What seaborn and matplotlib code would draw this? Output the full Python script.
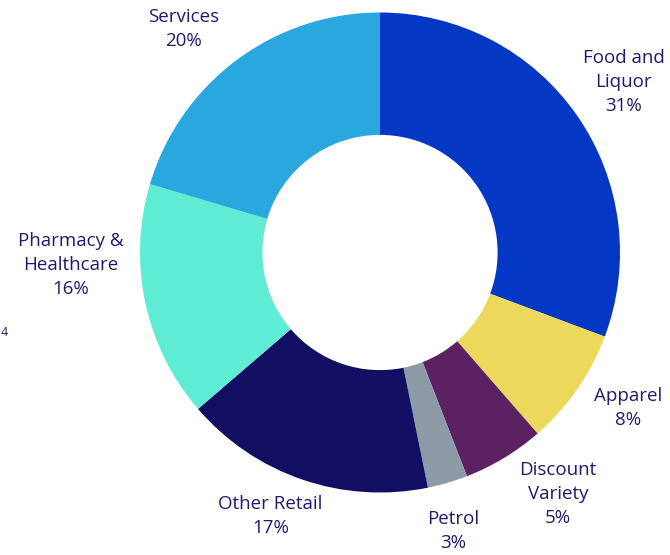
import numpy as np
import matplotlib
matplotlib.use("Agg")
import matplotlib.pyplot as plt
import seaborn as sns

categories = ["Food and\nLiquor", "Apparel", "Discount\nVariety", "Petrol",
              "Other Retail", "Pharmacy &\nHealthcare", "Services"]
values = [30.7, 7.9, 5.5, 2.7, 16.9, 15.9, 20.4]
pct_labels = ["31%", "8%", "5%", "3%", "17%", "16%", "20%"]
colors = ["#0437c4", "#ecd85a", "#5c2161", "#8c9ba5", "#120f63", "#5eecd4", "#29a8e0"]

# label placement style: radial distance and angular nudge (degrees, clockwise)
label_radius = [1.24, 1.22, 1.25, 1.20, 1.19, 1.29, 1.24]
label_nudge = [-0.3, -2.7, -5.3, 1.6, 3.7, 9.7, -4.5]

sns.set_theme(style="white")
plt.rcParams['font.family'] = ['Open Sans', 'DejaVu Sans']
text_color = "#1f1a6e"

fig = plt.figure(figsize=(6.7, 5.55), dpi=100)
ax = fig.add_axes([140/670, 62.5/555, 480/670, 480/555])
palette = sns.color_palette(colors)

wedges, _ = ax.pie(values, colors=palette, startangle=90, counterclock=False,
                   radius=1.0, wedgeprops=dict(width=0.51, linewidth=0))

for w, c, p, r, d in zip(wedges, categories, pct_labels, label_radius, label_nudge):
    mid = np.deg2rad((w.theta1 + w.theta2) / 2 - d)
    ax.text(r * np.cos(mid), r * np.sin(mid), f"{c}\n{p}", ha="center", va="center",
            color=text_color, fontsize=13.5, linespacing=1.42, clip_on=False)

ax.set_xlim(-1, 1)
ax.set_ylim(-1, 1)
ax.set_aspect("equal")
ax.axis("off")

fig.text(1/670, 1 - 333/555, "4", color=text_color, fontsize=9, ha="left", va="center")

fig.savefig("out.png", dpi=100)
